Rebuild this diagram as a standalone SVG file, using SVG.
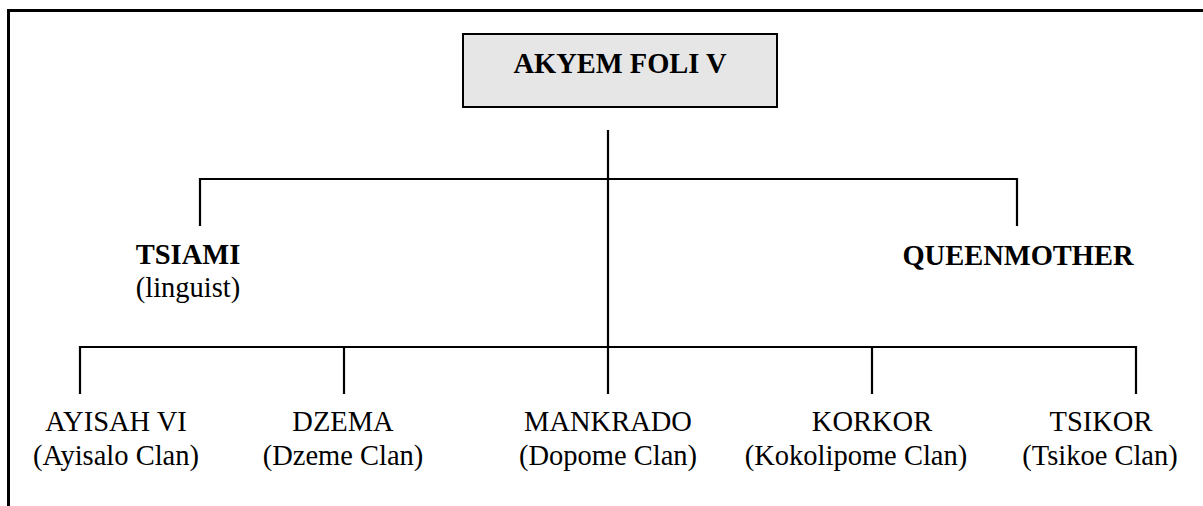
<svg xmlns="http://www.w3.org/2000/svg" width="1203" height="506" viewBox="0 0 1203 506">
<style>
  text { font-family: 'Liberation Serif', 'DejaVu Serif', serif; font-size: 28.5px; fill: #000; text-anchor: middle; }
  .b { font-weight: bold; }
  .ln { stroke: #000; stroke-width: 2.2; fill: none; }
</style>
<rect width="1203" height="506" fill="#fff"/>
<path d="M8.5 506 V10.5 H1203" stroke="#000" stroke-width="3" fill="none"/>
<g id="connectors">
  <path class="ln" d="M608 130 V394"/>
  <path class="ln" d="M200 226 V179 H1017 V226"/>
  <path class="ln" d="M80 394 V347 H1136 V394"/>
  <path class="ln" d="M344 347 V394"/>
  <path class="ln" d="M872 347 V394"/>
</g>
<g id="akyem">
  <rect x="463" y="34" width="314" height="73" fill="#e6e6e6" stroke="#000" stroke-width="2"/>
  <text class="b" x="620" y="73">AKYEM FOLI V</text>
</g>
<g id="tsiami">
  <text class="b" x="188" y="264">TSIAMI</text>
  <text x="188" y="297">(linguist)</text>
</g>
<g id="queenmother">
  <text class="b" x="1018" y="265">QUEENMOTHER</text>
</g>
<g id="ayisah">
  <text x="116" y="431">AYISAH VI</text>
  <text x="116" y="465">(Ayisalo Clan)</text>
</g>
<g id="dzema">
  <text x="343" y="431">DZEMA</text>
  <text x="343" y="465">(Dzeme Clan)</text>
</g>
<g id="mankrado">
  <text x="608" y="431">MANKRADO</text>
  <text x="608" y="465">(Dopome Clan)</text>
</g>
<g id="korkor">
  <text x="872" y="431">KORKOR</text>
  <text x="856" y="465">(Kokolipome Clan)</text>
</g>
<g id="tsikor">
  <text x="1101" y="431">TSIKOR</text>
  <text x="1100" y="465">(Tsikoe Clan)</text>
</g>
</svg>
